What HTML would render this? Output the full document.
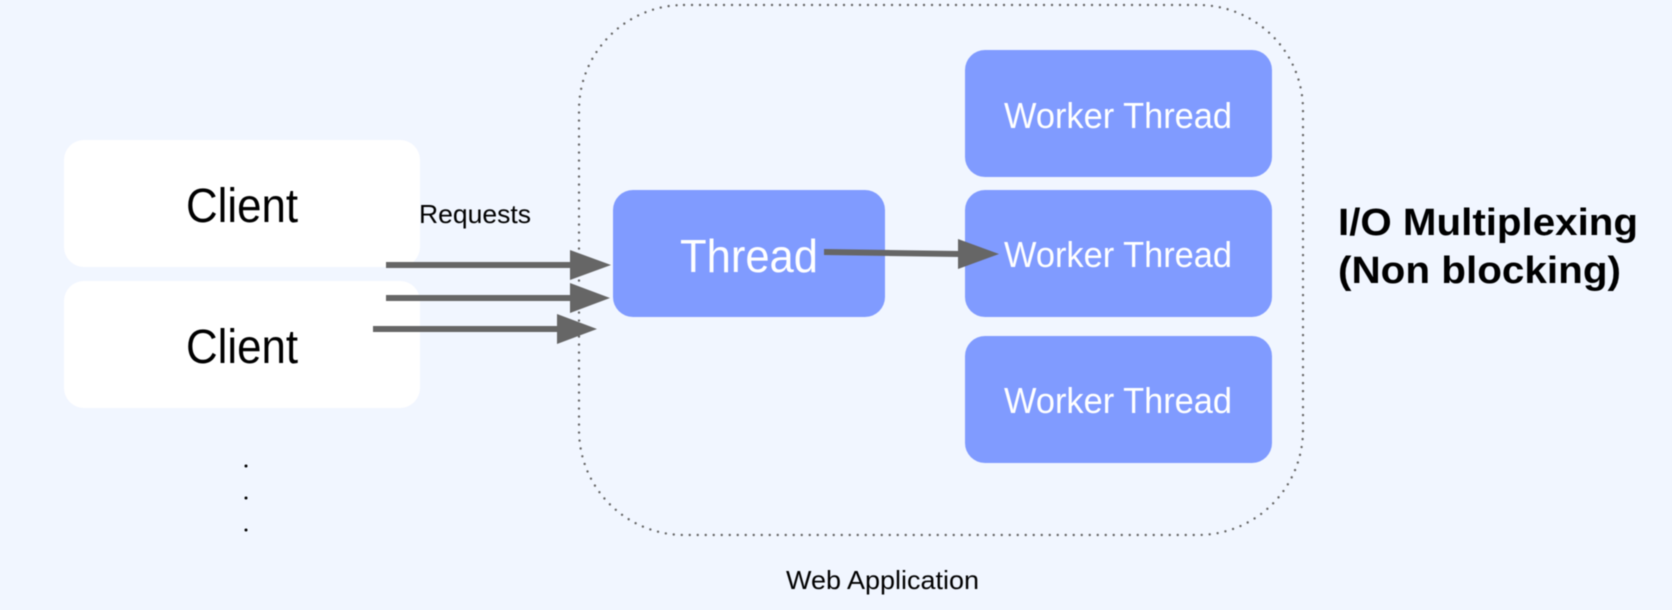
<!DOCTYPE html>
<html><head><meta charset="utf-8"><style>
html,body{margin:0;padding:0;background:#f1f6ff;width:1672px;height:610px;overflow:hidden}
svg{display:block;filter:blur(.45px)}
text{font-family:"Liberation Sans",sans-serif}
.c{fill:#000;font-size:48px}
.w{fill:#fff;font-size:36px}
.t{fill:#000;font-size:26px}
.b{fill:#000;font-size:38px;font-weight:bold}
</style></head><body>
<svg width="1672" height="610" viewBox="0 0 1672 610" xmlns="http://www.w3.org/2000/svg">
<rect width="1672" height="610" fill="#f1f6ff"/>
<rect x="579" y="5" width="724" height="530" rx="105" ry="105" fill="none" stroke="#666" stroke-width="2.4" stroke-linecap="round" stroke-dasharray="0 8"/>
<rect x="64" y="140" width="356" height="127" rx="20" fill="#fff"/>
<rect x="64" y="281" width="356" height="127" rx="20" fill="#fff"/>
<text class="c" x="186" y="222" textLength="112" lengthAdjust="spacingAndGlyphs">Client</text>
<text class="c" x="186" y="363" textLength="112" lengthAdjust="spacingAndGlyphs">Client</text>
<rect x="613" y="190" width="272" height="127" rx="20" fill="#809bff"/>
<rect x="965" y="50" width="307" height="127" rx="20" fill="#809bff"/>
<rect x="965" y="190" width="307" height="127" rx="20" fill="#809bff"/>
<rect x="965" y="336" width="307" height="127" rx="20" fill="#809bff"/>
<text class="w" style="font-size:46px" x="680" y="272" textLength="138" lengthAdjust="spacingAndGlyphs">Thread</text>
<text class="w" x="1004" y="128" textLength="228" lengthAdjust="spacingAndGlyphs">Worker Thread</text>
<text class="w" x="1004" y="267" textLength="228" lengthAdjust="spacingAndGlyphs">Worker Thread</text>
<text class="w" x="1004" y="413" textLength="228" lengthAdjust="spacingAndGlyphs">Worker Thread</text>
<g fill="#666">
<rect x="386" y="262" width="186" height="6"/><polygon points="570,250 611,265 570,280"/>
<rect x="386" y="295" width="186" height="6"/><polygon points="570,283 610,298 570,313"/>
<rect x="373" y="326" width="186" height="6"/><polygon points="557,314 597,329 557,344"/>
<polygon points="824,249 959,251 959,257 824,255"/><polygon points="958,239 999,254 958,269"/>
</g>
<text class="t" x="419" y="223" textLength="112" lengthAdjust="spacingAndGlyphs">Requests</text>
<text class="t" x="786" y="589" textLength="193" lengthAdjust="spacingAndGlyphs">Web Application</text>
<text class="b" x="1338" y="235" textLength="300" lengthAdjust="spacingAndGlyphs">I/O Multiplexing</text>
<text class="b" x="1338" y="283" textLength="283" lengthAdjust="spacingAndGlyphs">(Non blocking)</text>
<g fill="#000"><circle cx="246" cy="466" r="1.5"/><circle cx="246" cy="498" r="1.5"/><circle cx="246" cy="530" r="1.5"/></g>
</svg>
</body></html>
